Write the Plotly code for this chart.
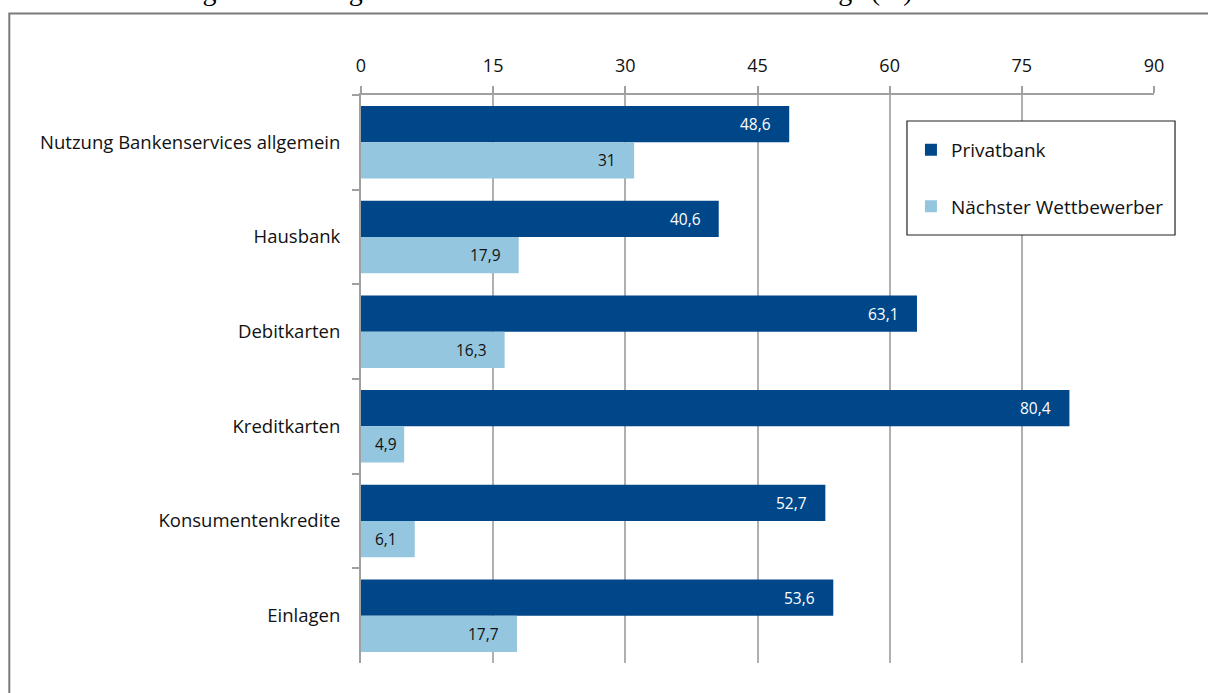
import plotly.graph_objects as go

categories = [
    "Nutzung Bankenservices allgemein",
    "Hausbank",
    "Debitkarten",
    "Kreditkarten",
    "Konsumentenkredite",
    "Einlagen",
]
privatbank = [48.6, 40.6, 63.1, 80.4, 52.7, 53.6]
wettbewerber = [31, 17.9, 16.3, 4.9, 6.1, 17.7]
x_ticks = [0, 15, 30, 45, 60, 75, 90]


def fmt(v):
    s = f"{v:g}"
    return s.replace(".", ",")


FONT = "Open Sans"
DARK = "#00478A"
LIGHT = "#94C6DF"
BAR_HALF = 18  # half of one bar's thickness in px (dark bar above, light below)

fig = go.Figure()
fig.add_trace(go.Bar(
    y=categories, x=privatbank, orientation="h", name="Privatbank",
    marker=dict(color=DARK, line=dict(width=0)),
    legendgroup="a", hoverinfo="x+y",
))
fig.add_trace(go.Bar(
    y=categories, x=wettbewerber, orientation="h", name="Nächster Wettbewerber",
    marker=dict(color=LIGHT, line=dict(width=0)),
    legendgroup="b", hoverinfo="x+y",
))

# value labels, inset from the end of each bar
for values, color, shift in ((privatbank, "white", BAR_HALF),
                             (wettbewerber, "#111111", -BAR_HALF)):
    for cat, v in zip(categories, values):
        pad = 16 if v >= 6 else 5
        fig.add_annotation(
            x=v, y=cat, xref="x", yref="y", text=fmt(v), showarrow=False,
            xanchor="right", yanchor="middle", xshift=-pad, yshift=shift,
            font=dict(family=FONT, size=15.5, color=color),
        )

# outer frame around the chart
fig.add_shape(type="rect", xref="paper", yref="paper",
              x0=-0.4435, x1=1.2, y0=-0.2, y1=1.1435,
              line=dict(color="#7a7a7a", width=2), layer="below")

# legend box
fig.add_shape(type="rect", xref="paper", yref="paper",
              x0=0.6885, x1=1.0265, y0=0.7535, y1=0.9542,
              line=dict(color="#222222", width=1.2), fillcolor="white",
              layer="above")

# heading of the figure
fig.add_annotation(
    text="Grafik 9: Umfang der Nutzung von Privatbankservices vs. Wettbewerbung\" (%)",
    xref="paper", yref="paper", x=-0.437, y=1.153,
    xanchor="left", yanchor="bottom", showarrow=False,
    font=dict(family="Liberation Serif", size=28, color="#000000"),
)

fig.update_layout(
    width=1208, height=693,
    margin=dict(l=361, r=54, t=95, b=30),
    paper_bgcolor="white", plot_bgcolor="white",
    barmode="group", bargap=0.235, bargroupgap=0,
    font=dict(family=FONT, size=17, color="#111111"),
    legend=dict(
        x=0.6935, y=0.937, xanchor="left", yanchor="top",
        borderwidth=0, bgcolor="rgba(0,0,0,0)",
        font=dict(family=FONT, size=19, color="#111111"),
        tracegroupgap=29, traceorder="grouped",
        itemwidth=30,
    ),
    xaxis=dict(
        side="top", range=[0, 90], tickvals=x_ticks,
        ticktext=[str(t) for t in x_ticks],
        showgrid=True, gridcolor="#b0b0b0", gridwidth=1.5,
        showline=True, linecolor="#a0a0a0", linewidth=2,
        ticks="outside", ticklen=7, tickcolor="#a0a0a0", tickwidth=2,
        ticklabelstandoff=7,
        tickfont=dict(family=FONT, size=18, color="#111111"),
        zeroline=False, fixedrange=True,
    ),
    yaxis=dict(
        categoryorder="array", categoryarray=categories,
        autorange="reversed",
        showline=True, linecolor="#a0a0a0", linewidth=2,
        ticks="outside", tickson="boundaries", ticklen=7,
        tickcolor="#a0a0a0", tickwidth=2,
        ticklabelstandoff=15,
        tickfont=dict(family=FONT, size=18.5, color="#111111"),
        fixedrange=True,
    ),
)

fig.write_html("out.html")
